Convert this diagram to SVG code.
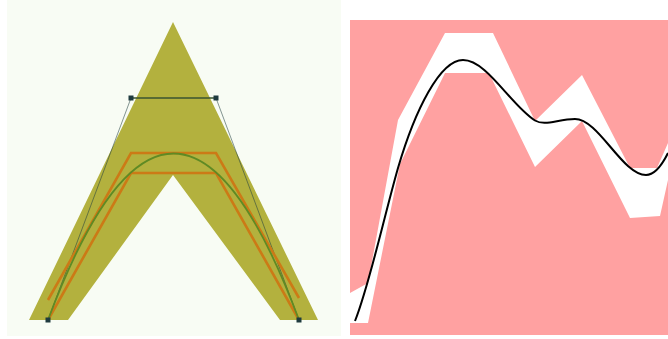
<svg xmlns="http://www.w3.org/2000/svg" width="668" height="339" viewBox="0 0 668 339">
  <style>
    .ortho { fill: none; stroke: #cc7a16; stroke-width: 2.6; stroke-linejoin: miter; }
    .ctrl { fill: none; stroke: #23403f; stroke-width: 1; }
    .handle { fill: #1f3b3f; }
    .bez { fill: none; stroke: #5f8a24; stroke-width: 1.8; }
  </style>
  <rect x="0" y="0" width="668" height="339" fill="#ffffff"/>
  <g id="left-panel">
    <rect x="7" y="0" width="334" height="336" fill="#f8fcf4"/>
    <polygon points="173,22 318,320 280,320 173,175 68,320 29,320" fill="#b3b13e"/>
    <g id="control-polygon">
      <polyline class="ctrl" points="48,320 131,98" opacity="0.55"/>
      <polyline class="ctrl" points="216,98 299,320" opacity="0.55"/>
      <line x1="131" y1="98" x2="216" y2="98" stroke="#3a5530" stroke-width="1.5"/>
    </g>
    <g id="orange-paths">
      <polyline class="ortho" points="48,300 131,153 216,153 299,298"/>
      <polyline class="ortho" points="48,320 131,173 216,173 299,320"/>
    </g>
    <path id="bezier-curve" class="bez" d="M48,320 C131,98 216,98 299,320"/>
    <g id="handles">
      <rect class="handle" x="128.5" y="95.5" width="5" height="5"/>
      <rect class="handle" x="213.5" y="95.5" width="5" height="5"/>
      <rect class="handle" x="45.5" y="317.5" width="5" height="5" fill="#2b4a3a"/>
      <rect class="handle" x="296.5" y="317.5" width="5" height="5" fill="#2b4a3a"/>
    </g>
  </g>
  <g id="right-panel">
    <rect x="350" y="20" width="318" height="315" fill="#ffa1a1"/>
    <polygon fill="#ffffff" points="350,293 368,283 398,120 445,33 493,33 535,121 582,75 630,168 657,168 668,143 668,180 660,216 630,218 582,121 535,167 489,73 445,73 400,164 368,323 350,323"/>
    <path id="fit-curve" fill="none" stroke="#000000" stroke-width="2" d="M355,321 C369.3,285.2 383.7,218 398,168 C415,110 440,60 463,60 C487,60 511,105.6 535,120.5 C545,126.5 558,119 575,119 C598.7,119 622.3,175 646,175 C653.3,175 660.7,167.7 668,153"/>
  </g>
</svg>
